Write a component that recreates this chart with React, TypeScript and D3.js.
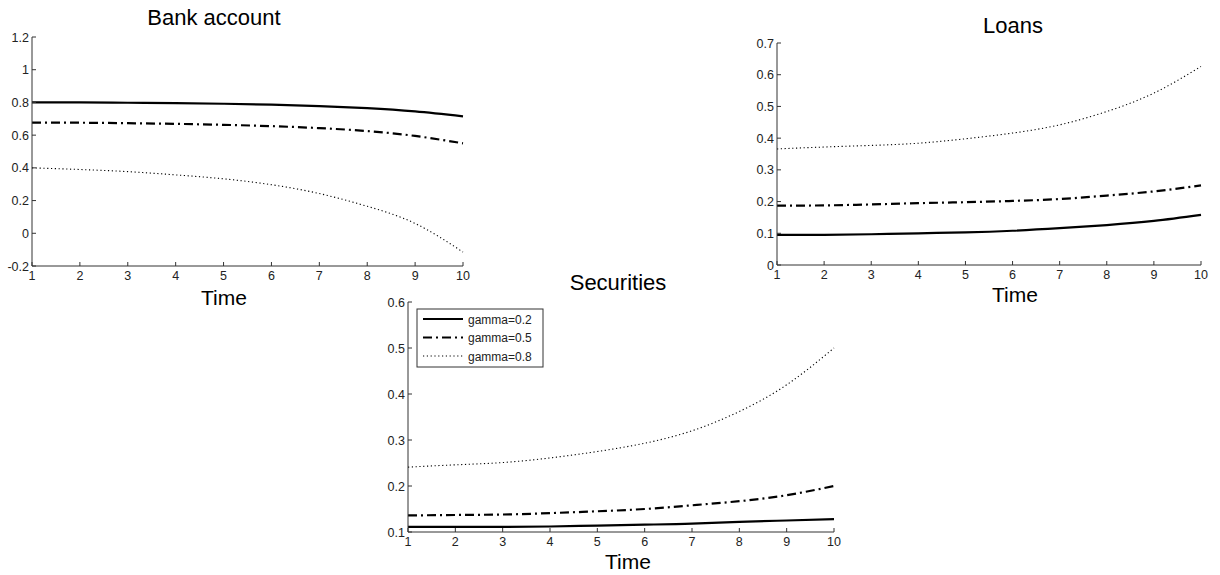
import * as d3 from "d3"

const time = [1, 2, 3, 4, 5, 6, 7, 8, 9, 10]
const seriesNames = ["gamma=0.2", "gamma=0.5", "gamma=0.8"]

const bankG02 = [0.8, 0.8, 0.798, 0.796, 0.792, 0.786, 0.778, 0.765, 0.745, 0.715]
const bankG05 = [0.677, 0.676, 0.673, 0.669, 0.663, 0.655, 0.643, 0.625, 0.595, 0.55]
const bankG08 = [0.4, 0.39, 0.377, 0.357, 0.333, 0.297, 0.243, 0.165, 0.06, -0.115]

const loansG02 = [0.095, 0.095, 0.097, 0.1, 0.103, 0.108, 0.116, 0.126, 0.139, 0.158]
const loansG05 = [0.187, 0.188, 0.191, 0.195, 0.198, 0.202, 0.208, 0.219, 0.232, 0.251]
const loansG08 = [0.366, 0.372, 0.377, 0.384, 0.398, 0.416, 0.442, 0.484, 0.542, 0.626]

const secG02 = [0.111, 0.111, 0.111, 0.112, 0.114, 0.116, 0.118, 0.122, 0.125, 0.128]
const secG05 = [0.136, 0.137, 0.138, 0.141, 0.145, 0.15, 0.158, 0.167, 0.18, 0.2]
const secG08 = [0.241, 0.246, 0.251, 0.261, 0.275, 0.293, 0.32, 0.362, 0.42, 0.5]

const bankTicks = [-0.2, 0, 0.2, 0.4, 0.6, 0.8, 1, 1.2]
const loansTicks = [0, 0.1, 0.2, 0.3, 0.4, 0.5, 0.6, 0.7]
const secTicks = [0.1, 0.2, 0.3, 0.4, 0.5, 0.6]

const styles = [
  { width: 2.2, dash: "" },
  { width: 2.2, dash: "9,4,2,4" },
  { width: 1.1, dash: "1.2,2.6" },
]

const font = "'Liberation Sans', Arial, sans-serif"

type PanelProps = {
  title: string
  series: number[][]
  yTicks: number[]
  left: number
  right: number
  top: number
  bottom: number
  titleX: number
  titleY: number
  labelX: number
  labelY: number
  legend?: boolean
}

const Panel = ({ title, series, yTicks, left, right, top, bottom, titleX, titleY, labelX, labelY, legend }: PanelProps) => {
  const x = d3.scaleLinear().domain([1, 10]).range([left, right])
  const y = d3.scaleLinear().domain([yTicks[0], yTicks[yTicks.length - 1]]).range([bottom, top])
  const line = d3
    .line<number>()
    .x((_, i) => x(time[i]))
    .y((d) => y(d))
    .curve(d3.curveNatural)

  return (
    <g>
      <text x={titleX} y={titleY} textAnchor="middle" fontSize={22} fontFamily={font} fill="#000">
        {title}
      </text>
      {series.map((s, i) => (
        <path
          key={i}
          d={line(s) ?? ""}
          fill="none"
          stroke="#000"
          strokeWidth={styles[i].width}
          strokeDasharray={styles[i].dash || undefined}
        />
      ))}
      <line x1={left} x2={left} y1={top} y2={bottom} stroke="#333" />
      <line x1={left} x2={right} y1={bottom} y2={bottom} stroke="#333" />
      {yTicks.map((t) => (
        <g key={t}>
          <line x1={left} x2={left + 4} y1={y(t)} y2={y(t)} stroke="#333" />
          <text x={left - 3} y={y(t) + 4.5} textAnchor="end" fontSize={12.5} fontFamily={font} fill="#222">
            {String(+t.toFixed(1))}
          </text>
        </g>
      ))}
      {time.map((t) => (
        <g key={t}>
          <line x1={x(t)} x2={x(t)} y1={bottom} y2={bottom - 4} stroke="#333" />
          <text x={x(t)} y={bottom + 14} textAnchor="middle" fontSize={12.5} fontFamily={font} fill="#222">
            {t}
          </text>
        </g>
      ))}
      <text x={labelX} y={labelY} textAnchor="middle" fontSize={21} fontFamily={font} fill="#000">
        Time
      </text>
      {legend && (
        <g>
          <rect x={417} y={309} width={126} height={58} fill="#fff" stroke="#333" />
          {seriesNames.map((name, i) => (
            <g key={name}>
              <line
                x1={423}
                x2={463}
                y1={319 + i * 18.5}
                y2={319 + i * 18.5}
                stroke="#000"
                strokeWidth={styles[i].width}
                strokeDasharray={styles[i].dash || undefined}
              />
              <text x={468} y={323.5 + i * 18.5} fontSize={12} fontFamily={font} fill="#222">
                {name}
              </text>
            </g>
          ))}
        </g>
      )}
    </g>
  )
}

const App = () => {
  return (
    <svg
      width={1220}
      height={575}
      style={{ position: "absolute", left: 0, top: 0, background: "#fff" }}
    >
      <rect width={1220} height={575} fill="#fff" />
      <Panel
        title="Bank account"
        series={[bankG02, bankG05, bankG08]}
        yTicks={bankTicks}
        left={32}
        right={463}
        top={37}
        bottom={266}
        titleX={214}
        titleY={25}
        labelX={224}
        labelY={305}
      />
      <Panel
        title="Loans"
        series={[loansG02, loansG05, loansG08]}
        yTicks={loansTicks}
        left={777}
        right={1201}
        top={43}
        bottom={265}
        titleX={1013}
        titleY={33}
        labelX={1015}
        labelY={302}
      />
      <Panel
        title="Securities"
        series={[secG02, secG05, secG08]}
        yTicks={secTicks}
        left={408}
        right={834}
        top={302}
        bottom={532}
        titleX={618}
        titleY={290}
        labelX={628}
        labelY={569}
        legend
      />
    </svg>
  )
}

export default App
